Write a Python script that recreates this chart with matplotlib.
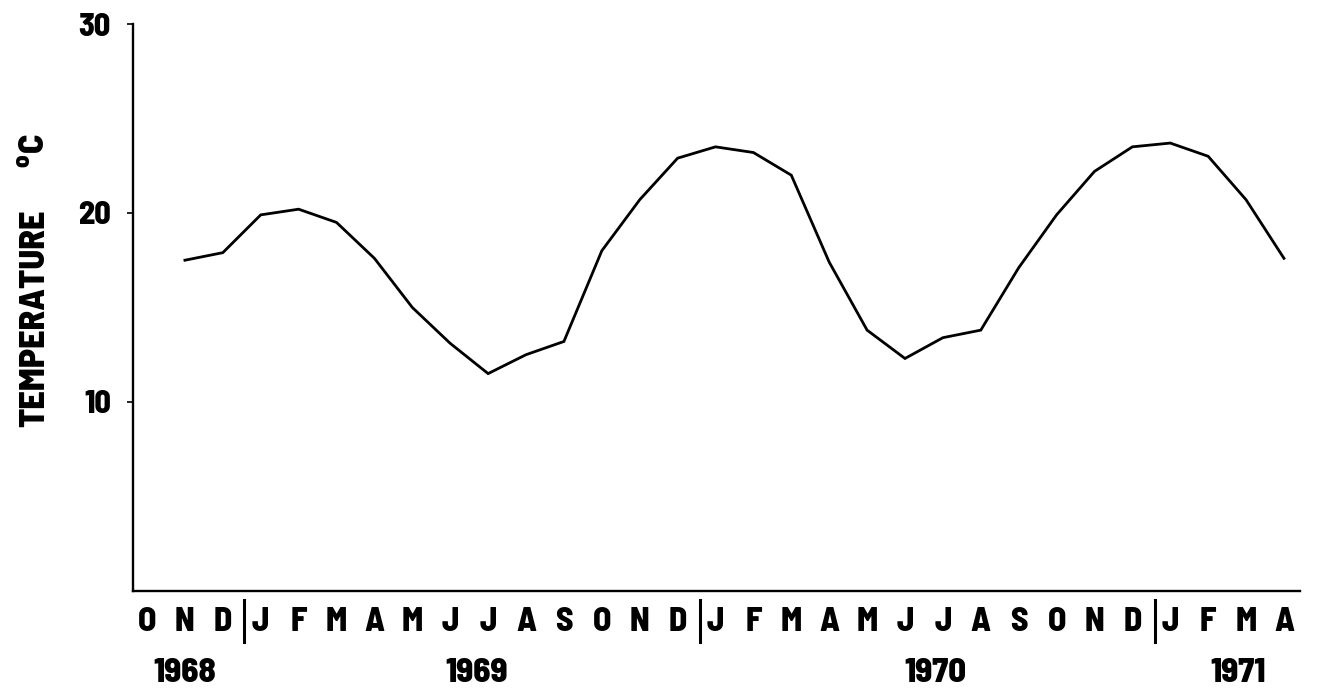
import matplotlib
matplotlib.use("Agg")
import matplotlib.pyplot as plt
import matplotlib.transforms as mtransforms

# --- data (monthly means, Nov 1968 -> Apr 1971) ---
month_labels = ["O", "N", "D",
                "J", "F", "M", "A", "M", "J", "J", "A", "S", "O", "N", "D",
                "J", "F", "M", "A", "M", "J", "J", "A", "S", "O", "N", "D",
                "J", "F", "M", "A"]
temps = [17.5, 17.9, 19.9, 20.2, 19.5, 17.6, 15.0, 13.1, 11.5, 12.5,
         13.2, 18.0, 20.7, 22.9, 23.5, 23.2, 22.0, 17.4, 13.8, 12.3,
         13.4, 13.8, 17.1, 19.9, 22.2, 23.5, 23.7, 23.0, 20.7, 17.6]
first_month = 1            # series starts at "N" 1968
year_labels = ["1968", "1969", "1970", "1971"]
year_pos = [1, 8.7, 20.8, 28.8]
year_breaks = [2.55, 14.6, 26.6]   # the "|" between D and J
y_ticks = [10, 20, 30]

plt.rcParams['font.family'] = ['Barlow Semi Condensed', 'DejaVu Sans']
W = 800  # heavy bold like the original lettering

fig = plt.figure(figsize=(13.17, 6.96), dpi=100)
ax = fig.add_axes([0.101, 0.151, 0.886, 0.8145])

x = list(range(first_month, first_month + len(temps)))
ax.plot(x, temps, color='black', linewidth=2.0, solid_joinstyle='miter')

ax.set_xlim(-0.37, 30.42)
ax.set_ylim(0, 30)

for s in ['top', 'right']:
    ax.spines[s].set_visible(False)
for s in ['left', 'bottom']:
    ax.spines[s].set_linewidth(1.7)

ax.set_yticks(y_ticks)
ax.set_yticklabels([str(t) for t in y_ticks], fontsize=23, fontweight=W)
ax.tick_params(axis='y', length=4, width=1.2, pad=12)
ax.set_xticks([])

trans = mtransforms.blended_transform_factory(ax.transData, ax.transAxes)
for i, lab in enumerate(month_labels):
    ax.text(i, -0.054, lab, transform=trans, ha='center', va='center',
            fontsize=24, fontweight=W)
for b in year_breaks:
    ax.plot([b, b], [-0.016, -0.09], transform=trans, color='black',
            linewidth=2.2, clip_on=False)
for yl, yp in zip(year_labels, year_pos):
    ax.text(yp, -0.145, yl, transform=trans, ha='center', va='center',
            fontsize=25, fontweight=W)

# y label: "TEMPERATURE" and the degree sign placed like the original
fig.text(0.027, 1 - 318 / 696, "TEMPERATURE", rotation=90,
         ha='center', va='center', fontsize=26, fontweight=W)
fig.text(0.027, 1 - 151 / 696, "$^{\\mathregular{o}}$C", rotation=90,
         ha='center', va='center', fontsize=26, fontweight=W)

fig.savefig("out.png", dpi=100, facecolor='white')
